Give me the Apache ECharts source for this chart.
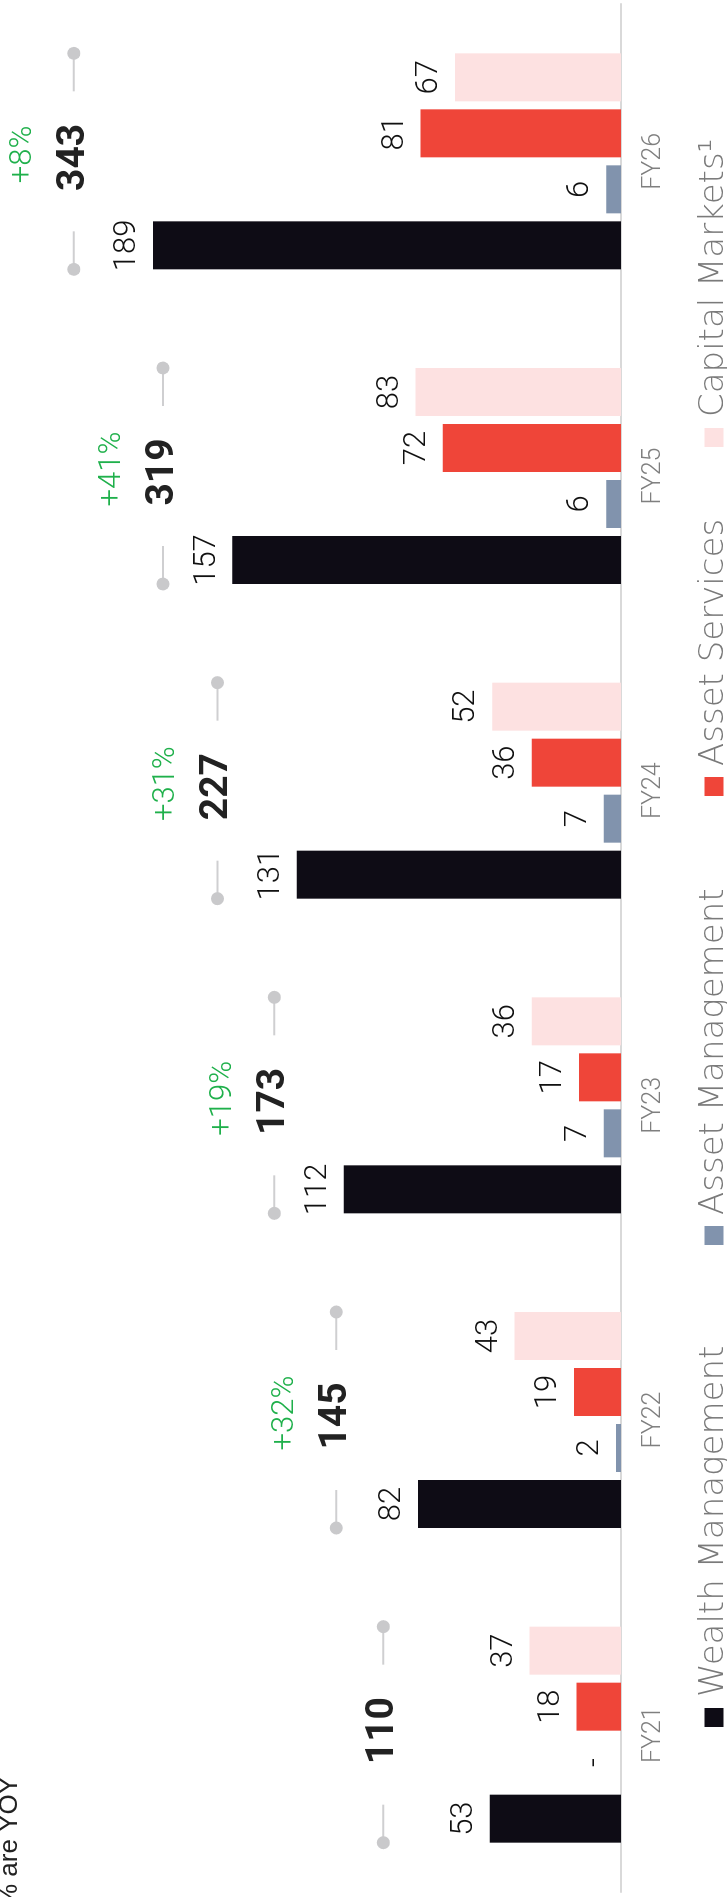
<!DOCTYPE html>
<html>
<head>
<meta charset="utf-8">
<script src="https://cdn.jsdelivr.net/npm/echarts@6/dist/echarts.min.js"></script>
<style>
  html, body { margin: 0; padding: 0; background: #ffffff; overflow: hidden; }
  #rot {
    position: absolute; left: 0; top: 0;
    width: 1897px; height: 727px;
    transform-origin: 0 0;
    transform: rotate(-90deg) translateX(-1897px);
  }
</style>
</head>
<body>
<div id="rot"></div>
<script>
// ---- data ----
const categories = ['FY21', 'FY22', 'FY23', 'FY24', 'FY25', 'FY26'];
const seriesNames = ['Wealth Management', 'Asset Management', 'Asset Services', 'Capital Markets'];
const wealthManagement = [53, 82, 112, 131, 157, 189];
const assetManagement  = [0, 2, 7, 7, 6, 6];
const assetServices    = [18, 19, 17, 36, 72, 81];
const capitalMarkets   = [37, 43, 36, 52, 83, 67];
const totals           = [110, 145, 173, 227, 319, 343];
// height (in axis units) at which each total / bracket annotation sits
const bracketLevel     = [96, 115, 140, 163, 185, 221];
const noteText = '% are YOY';

// ---- styling / layout ----
const colors = ['#0e0c15', '#8193ad', '#ef4539', '#fde1e1'];
const BAR_W = 48, BAR_GAP = 8;
const GROUP_HALF = (4 * BAR_W + 3 * BAR_GAP) / 2;
const legendLeft = [170, 652, 1101, 1450];
const NUM_FONT = 'Roboto, "Liberation Sans", Arial, sans-serif';
const TXT_FONT = '"DejaVu Sans", "Liberation Sans", sans-serif';

const seriesData = [wealthManagement, assetManagement, assetServices, capitalMarkets];

const growth = totals.map((t, i) => i === 0 ? null : Math.round((t / totals[i - 1] - 1) * 100));

const chart = echarts.init(document.getElementById('rot'), null, { width: 1897, height: 727 });

const barSeries = seriesNames.map((name, k) => ({
  name: name,
  type: 'bar',
  data: seriesData[k],
  barWidth: BAR_W,
  barGap: (BAR_GAP / BAR_W * 100) + '%',
  itemStyle: { color: colors[k] },
  label: {
    show: true,
    position: 'top',
    distance: 10,
    formatter: p => (p.value === 0 ? '-' : String(p.value)),
    fontSize: 31,
    fontFamily: NUM_FONT,
    fontWeight: 300,
    color: '#111111'
  }
}));

const bracketSeries = {
  type: 'custom',
  coordinateSystem: 'cartesian2d',
  clip: false,
  silent: true,
  z: 5,
  data: categories.map((c, i) => [i, bracketLevel[i]]),
  renderItem: function (params, api) {
    const i = params.dataIndex;
    const p = api.coord([api.value(0), api.value(1)]);
    const x = p[0], y = p[1];
    const seg = 38, r = 6.5;
    const lineStyle = { stroke: '#cfcfd1', lineWidth: 2 };
    const children = [
      { type: 'line', shape: { x1: x - GROUP_HALF, y1: y, x2: x - GROUP_HALF + seg, y2: y }, style: lineStyle },
      { type: 'line', shape: { x1: x + GROUP_HALF - seg, y1: y, x2: x + GROUP_HALF, y2: y }, style: lineStyle },
      { type: 'circle', shape: { cx: x - GROUP_HALF, cy: y, r: r }, style: { fill: '#c9c9cb' } },
      { type: 'circle', shape: { cx: x + GROUP_HALF, cy: y, r: r }, style: { fill: '#c9c9cb' } },
      { type: 'text', style: {
          text: String(totals[i]), x: x + 4, y: y,
          align: 'center', verticalAlign: 'middle',
          fontSize: 39, fontWeight: 'bold', fontFamily: NUM_FONT, fill: '#222222'
      } }
    ];
    if (growth[i] !== null) {
      children.push({ type: 'text', style: {
        text: '+' + growth[i] + '%', x: x + 7, y: y - 51,
        align: 'center', verticalAlign: 'middle',
        fontSize: 31, fontWeight: 300, fontFamily: NUM_FONT, fill: '#1fb04b'
      } });
    }
    return { type: 'group', children: children };
  }
};

const legends = seriesNames.map((name, k) => ({
  data: [name],
  left: legendLeft[k],
  top: 697,
  padding: 0,
  icon: 'rect',
  itemWidth: 19,
  itemHeight: 19,
  selectedMode: false,
  formatter: n => (n === 'Capital Markets' ? n + '¹' : n),
  textStyle: {
    fontSize: 34,
    fontFamily: TXT_FONT,
    fontWeight: 200,
    color: '#7a7a7a',
    padding: [0, 0, 0, 6]
  }
}));

chart.setOption({
  animation: false,
  backgroundColor: '#ffffff',
  grid: { left: 5, right: 4, top: 2, bottom: 106 },
  xAxis: {
    type: 'category',
    data: categories,
    axisLine: { show: true, lineStyle: { color: '#d9d9d9', width: 2 } },
    axisTick: { show: false },
    axisLabel: {
      margin: 20,
      fontSize: 25,
      fontFamily: NUM_FONT,
      fontWeight: 300,
      color: '#7f7f7f'
    }
  },
  yAxis: {
    type: 'value', min: 0, max: 250, show: false,
    splitLine: { show: false }
  },
  legend: legends,
  graphic: [{
    type: 'text',
    x: 120, y: 23,
    style: {
      text: noteText,
      align: 'right',
      verticalAlign: 'bottom',
      fontSize: 26,
      fontFamily: '"Liberation Sans", Arial, sans-serif',
      fill: '#222222'
    }
  }],
  series: barSeries.concat([bracketSeries])
});
</script>
</body>
</html>
